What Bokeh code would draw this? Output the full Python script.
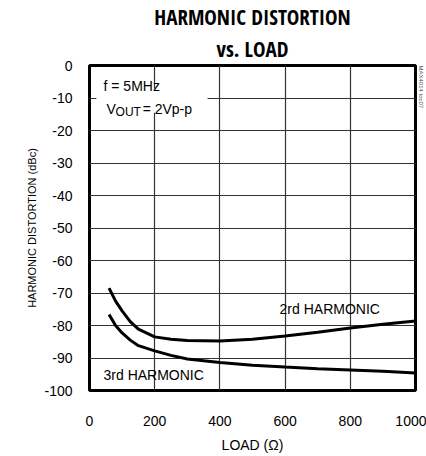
import math
from bokeh.plotting import figure
from bokeh.models import Range1d, FixedTicker, Label, BoxAnnotation, Title
from bokeh.embed import file_html
from bokeh.resources import INLINE

FONT = "Liberation Sans"
TFONT = "Open Sans Condensed"

load = [60, 80, 100, 125, 150, 200, 250, 300, 400, 500, 600, 700, 800, 900, 1000]
h2 = [-68.5, -72.5, -75.5, -78.8, -81.1, -83.5, -84.2, -84.6, -84.8, -84.2, -83.2, -82.1, -80.8, -79.6, -78.6]
h3 = [-76.6, -80.0, -82.3, -84.5, -86.2, -87.8, -89.2, -90.3, -91.4, -92.2, -92.8, -93.3, -93.7, -94.1, -94.6]
x_ticks = [0, 200, 400, 600, 800, 1000]
x_tick_labels = ["0", "200", "400", "600", "800", "1000"]
y_ticks = [0, -10, -20, -30, -40, -50, -60, -70, -80, -90, -100]
y_tick_labels = ["0", "-10", "-20", "-30", "-40", "-50", "-60", "-70", "-80", "-90", "-100"]

p = figure(width=426, height=456, output_backend="svg", toolbar_location=None,
           x_range=Range1d(0, 1000), y_range=Range1d(-100, 0),
           min_border_left=89, min_border_right=11, min_border_top=65, min_border_bottom=66)
p.background_fill_color = "white"
p.border_fill_color = "white"
p.outline_line_color = "black"
p.outline_line_width = 3

p.title.text = "HARMONIC DISTORTION"
p.title.align = "center"
p.title.text_font = TFONT
p.title.text_font_size = "21px"
p.title.text_font_style = "bold"
p.title.text_color = "black"
p.title.standoff = 0
p.add_layout(Title(text="vs. LOAD", align="center", text_font=TFONT,
                   text_font_size="21px", text_font_style="bold", text_color="black",
                   standoff=5), "above")
p.add_layout(Title(text="MAX4014 toc07", align="left", text_font=FONT,
                   text_font_size="6px", text_font_style="normal", text_color="#555555",
                   vertical_align="top", standoff=1), "right")

p.xaxis.ticker = FixedTicker(ticks=x_ticks)
p.yaxis.ticker = FixedTicker(ticks=y_ticks)
p.xaxis.major_label_overrides = dict(zip(x_ticks, x_tick_labels))
p.yaxis.major_label_overrides = dict(zip(y_ticks, y_tick_labels))
for ax in (p.xaxis[0], p.yaxis[0]):
    ax.axis_line_color = None
    ax.major_tick_line_color = None
    ax.minor_tick_line_color = None
    ax.major_tick_out = 0
    ax.major_tick_in = 0
    ax.major_label_text_font = FONT
    ax.major_label_text_font_size = "14px"
    ax.major_label_text_color = "black"
    ax.axis_label_text_font = FONT
    ax.axis_label_text_font_style = "normal"
    ax.axis_label_text_color = "black"
p.xaxis.major_label_standoff = 25
p.yaxis.major_label_standoff = 17
p.xaxis.axis_label = "LOAD (Ω)"
p.xaxis.axis_label_text_font_size = "14px"
p.xaxis.axis_label_standoff = 8
p.yaxis.axis_label = "HARMONIC DISTORTION (dBc)"
p.yaxis.axis_label_text_font_size = "11px"
p.yaxis.axis_label_standoff = 3

p.xgrid.ticker = FixedTicker(ticks=x_ticks)
p.ygrid.ticker = FixedTicker(ticks=y_ticks)
p.grid.grid_line_color = "#333333"
p.grid.grid_line_width = 1.2

p.line(load, h2, line_color="black", line_width=3)
p.line(load, h3, line_color="black", line_width=3)

p.add_layout(BoxAnnotation(left=21, right=362, bottom=-14.5, top=-7.1,
                           fill_color="white", fill_alpha=1, line_color=None))

def lab(x, y, text, size="14px", align="left", baseline="middle"):
    p.add_layout(Label(x=x, y=y, text=text, text_font=FONT, text_font_size=size,
                       text_align=align, text_baseline=baseline, text_color="black"))

lab(43, -6.2, "f = 5MHz")
lab(52, -13.3, "V")
lab(80, -14.3, "OUT", size="12px")
lab(163, -13.3, "= 2Vp-p")
lab(583, -74.8, "2rd HARMONIC")
lab(43, -95.2, "3rd HARMONIC")

open("out.html", "w").write(file_html(p, INLINE))
